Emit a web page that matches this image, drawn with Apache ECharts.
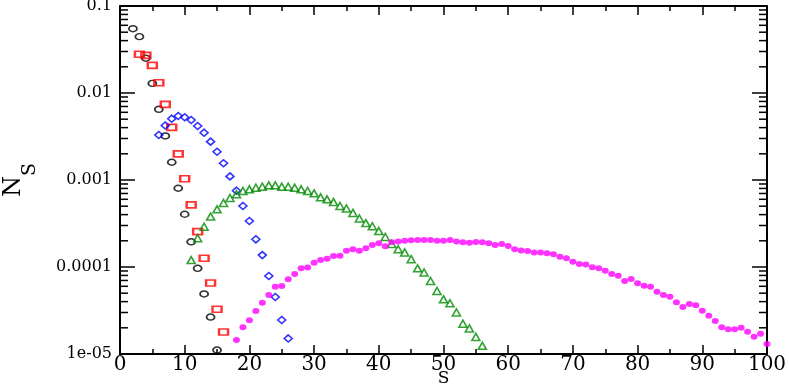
<!DOCTYPE html>
<html><head><meta charset="utf-8">
<script src="https://cdn.jsdelivr.net/npm/echarts@6/dist/echarts.min.js"></script>
<style>html,body{margin:0;padding:0;background:#fff}#c{width:789px;height:388px}</style>
</head><body><div id="c"></div>
<script>
// ---- data (cluster size S, density N_S) ----
const blackStart = 2;
const blackN = [0.0548, 0.0444, 0.0251, 0.0129, 0.0065, 0.00321, 0.0016, 0.000804, 0.000404, 0.000195, 9.66e-5, 4.9e-5, 2.66e-5, 1.11e-5];
const redStart = 3;
const redN = [0.0279, 0.0271, 0.0208, 0.0131, 0.00741, 0.00403, 0.002, 0.001035, 0.000517, 0.000255, 0.000126, 6.55e-5, 3.27e-5, 1.79e-5];
const blueStart = 6;
const blueN = [0.00329, 0.00423, 0.00507, 0.00544, 0.00526, 0.0049, 0.00418, 0.0035, 0.00276, 0.00211, 0.00156, 0.0011, 0.000754, 0.000503, 0.000338, 0.000208, 0.000137, 7.88e-5, 4.52e-5, 2.46e-5, 1.51e-5];
const greenStart = 11;
const greenN = [1.20e-4, 2.14e-4, 2.90e-4, 3.80e-4, 4.60e-4, 5.44e-4, 6.21e-4, 6.85e-4, 7.48e-4, 7.82e-4,
  8.15e-4, 8.37e-4, 8.69e-4, 8.69e-4, 8.37e-4, 8.37e-4, 8.15e-4, 7.82e-4, 7.48e-4, 7.03e-4,
  6.32e-4, 6.0e-4, 5.58e-4, 5.02e-4, 4.70e-4, 4.18e-4, 3.61e-4, 3.20e-4, 2.94e-4, 2.59e-4,
  2.21e-4, 1.84e-4, 1.60e-4, 1.47e-4, 1.23e-4, 9.66e-5, 8.65e-5, 6.90e-5, 5.30e-5, 4.25e-5,
  3.83e-5, 3.0e-5, 2.23e-5, 1.97e-5, 1.57e-5, 1.24e-5];
const magentaStart = 18;
const magentaN = [1.45e-5, 2.03e-5, 2.45e-5, 3.12e-5, 3.89e-5, 4.77e-5, 5.94e-5, 6.05e-5, 7.23e-5, 8.32e-5,
  9.67e-5, 9.87e-5, 1.12e-4, 1.20e-4, 1.24e-4, 1.34e-4, 1.35e-4, 1.54e-4, 1.60e-4, 1.54e-4,
  1.64e-4, 1.79e-4, 1.87e-4, 1.73e-4, 1.93e-4, 1.97e-4, 2.0e-4, 2.03e-4, 2.04e-4, 2.04e-4,
  2.04e-4, 2.0e-4, 2.0e-4, 2.04e-4, 1.97e-4, 1.92e-4, 1.90e-4, 1.94e-4, 1.92e-4, 1.87e-4,
  1.79e-4, 1.84e-4, 1.74e-4, 1.60e-4, 1.55e-4, 1.53e-4, 1.47e-4, 1.47e-4, 1.44e-4, 1.40e-4,
  1.31e-4, 1.26e-4, 1.15e-4, 1.08e-4, 1.07e-4, 9.93e-5, 9.67e-5, 9.06e-5, 8.31e-5, 7.94e-5,
  6.90e-5, 7.28e-5, 6.50e-5, 6.10e-5, 5.94e-5, 5.20e-5, 4.77e-5, 4.56e-5, 3.93e-5, 3.47e-5,
  3.76e-5, 3.63e-5, 3.15e-5, 2.76e-5, 2.39e-5, 2.03e-5, 1.92e-5, 1.92e-5, 2.0e-5, 1.80e-5,
  1.58e-5, 1.71e-5, 1.30e-5];
const yTickLabels = ['1e-05', '0.0001', '0.001', '0.01', '0.1'];
const yMinorMultipliers = [2, 3, 4, 5, 6, 7, 8, 9];
const yDecades = [-5, -4, -3, -2];

// ---- build ----
const pairs = (start, arr) => arr.map((v, i) => [start + i, v]);
const yMinorTicks = [];
yDecades.forEach(k => yMinorMultipliers.forEach(m => yMinorTicks.push([0, m * Math.pow(10, k)])));

const FONT = 'DejaVu Serif';
const chart = echarts.init(document.getElementById('c'), null, {renderer: 'canvas'});
const axisLineStyle = {color: '#000', width: 2};
const tickStyle = {color: '#000', width: 1.5};
const xBase = {
  type: 'value', min: 0, max: 100, interval: 10,
  splitLine: {show: false},
  axisLine: {show: true, onZero: false, lineStyle: axisLineStyle},
  axisTick: {show: true, inside: true, length: 9, lineStyle: tickStyle},
  minorTick: {show: true, splitNumber: 2, length: 5, lineStyle: tickStyle},
  minorSplitLine: {show: false}
};
const yBase = {
  type: 'log', logBase: 10, min: 1e-5, max: 0.1,
  splitLine: {show: false},
  axisLine: {show: true, onZero: false, lineStyle: axisLineStyle},
  axisTick: {show: true, inside: true, length: 15, lineStyle: tickStyle}
};
const openMarker = (color, symbol, size, bw) => ({
  type: 'scatter', symbol: symbol, symbolSize: size,
  itemStyle: {color: 'rgba(0,0,0,0)', borderColor: color, borderWidth: bw},
  emphasis: {disabled: true}, silent: true, animation: false
});

const option = {
  animation: false,
  grid: {left: 120, right: 22, top: 6, bottom: 34, containLabel: false, outerBoundsMode: 'none'},
  xAxis: [
    Object.assign({}, xBase, {
      position: 'bottom',
      axisLabel: {show: true, fontFamily: FONT, fontSize: 20, color: '#000', margin: 1},
      name: 'S', nameLocation: 'middle', nameGap: 16, nameMoveOverlap: false,
      nameTextStyle: {fontFamily: FONT, fontSize: 17, color: '#000', lineHeight: 17}
    }),
    Object.assign({}, xBase, {position: 'top', axisLabel: {show: false}})
  ],
  yAxis: [
    Object.assign({}, yBase, {
      position: 'left',
      axisLabel: {
        show: true, fontFamily: FONT, fontSize: 16, color: '#000', margin: 8,
        formatter: v => yTickLabels[Math.round(Math.log10(v)) + 5]
      },
      name: '{n|N}{s|S}', nameLocation: 'middle', nameRotate: 90, nameGap: 80,
      nameMoveOverlap: false,
      nameTextStyle: {
        color: '#000',
        rich: {
          n: {fontFamily: FONT, fontSize: 24, lineHeight: 24, verticalAlign: 'top', color: '#000'},
          s: {fontFamily: FONT, fontSize: 19, lineHeight: 38, verticalAlign: 'bottom', color: '#000'}
        }
      }
    }),
    Object.assign({}, yBase, {position: 'right', axisLabel: {show: false}})
  ],
  series: [
    {
      type: 'custom', coordinateSystem: 'cartesian2d', xAxisIndex: 0, yAxisIndex: 0,
      silent: true, z: 1, clip: false,
      data: yMinorTicks,
      renderItem: (params, api) => {
        const v = api.value(1);
        const a = api.coord([0, v]);
        const b = api.coord([100, v]);
        return {type: 'group', children: [
          {type: 'line', shape: {x1: a[0], y1: a[1], x2: a[0] + 8, y2: a[1]}, style: {stroke: '#000', lineWidth: 1.5}},
          {type: 'line', shape: {x1: b[0], y1: b[1], x2: b[0] - 8, y2: b[1]}, style: {stroke: '#000', lineWidth: 1.5}}
        ]};
      }
    },
    Object.assign(openMarker('#000000', 'circle', [8, 6], 1.6), {data: pairs(blackStart, blackN)}),
    Object.assign(openMarker('#ff0000', 'rect', [9, 6], 2), {data: pairs(redStart, redN)}),
    Object.assign(openMarker('#0000ff', 'diamond', [8, 7], 1.6), {data: pairs(blueStart, blueN)}),
    Object.assign(openMarker('#008b00', 'triangle', [8, 7], 1.6), {data: pairs(greenStart, greenN)}),
    {
      type: 'scatter', symbol: 'circle', symbolSize: [7, 6],
      itemStyle: {color: '#ff00ff'}, silent: true,
      data: pairs(magentaStart, magentaN)
    }
  ]
};
chart.setOption(option);
</script>
</body></html>
